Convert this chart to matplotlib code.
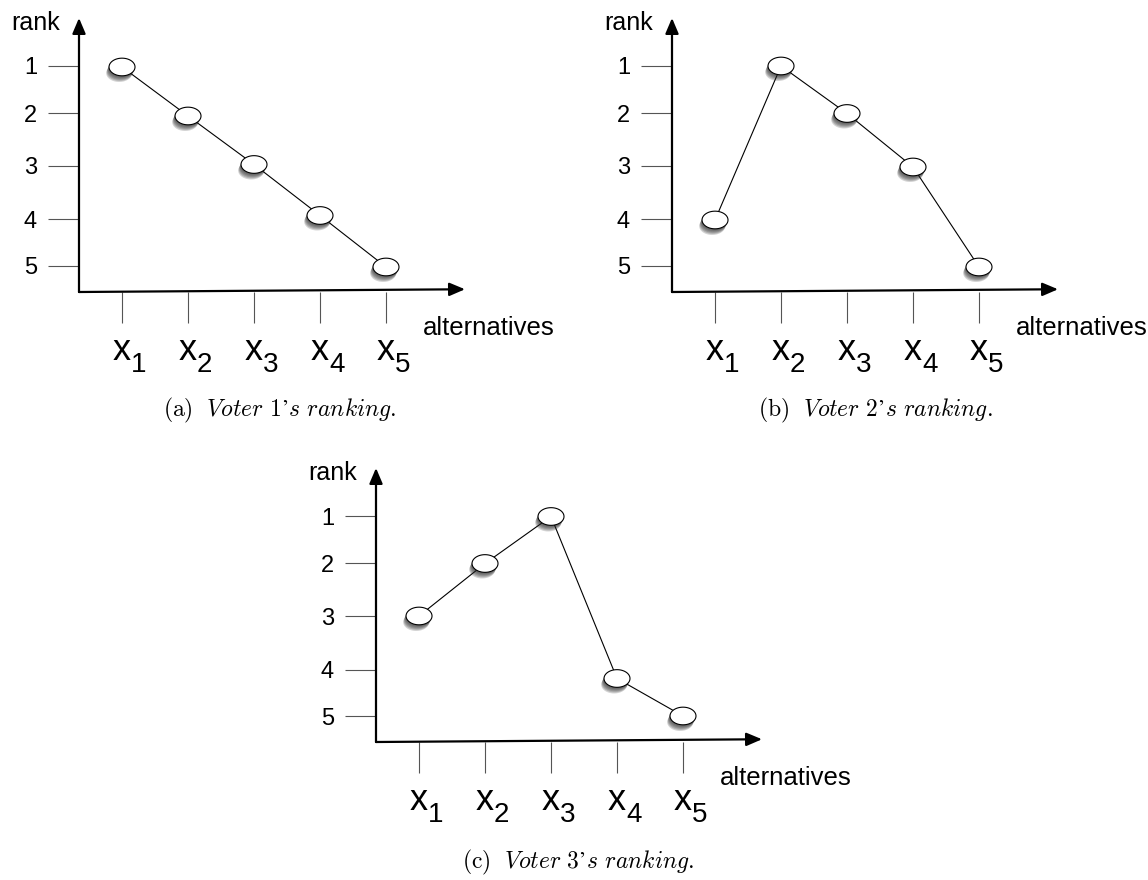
import numpy as np
import matplotlib
matplotlib.use('Agg')
import matplotlib.pyplot as plt
from matplotlib.path import Path
import matplotlib.patheffects as pe

plt.rcParams['font.family'] = ['Liberation Sans', 'DejaVu Sans']
plt.rcParams['mathtext.fontset'] = 'cm'

# datos
alternativas = [1, 2, 3, 4, 5]
subindices = ['1', '2', '3', '4', '5']
rank_ticks = [1, 1.94, 3, 4.07, 5]
rank_labels = ['1', '2', '3', '4', '5']

voter1 = [1.02, 2.0, 2.97, 3.99, 5.02]
voter2 = [4.08, 1.0, 1.95, 3.02, 5.02]
voter3 = [3.0, 1.95, 1.01, 4.25, 5.0]

captions = ['(a)', '(b)', '(c)']
caption_text = ["Voter 1’s ranking.", "Voter 2’s ranking.", "Voter 3’s ranking."]

W, H = 1148, 880
fig = plt.figure(figsize=(W / 100, H / 100), dpi=100)

# marcador eliptico
t = np.linspace(0, 2 * np.pi, 80)
elipse = Path(np.c_[np.cos(t), 0.68 * np.sin(t)], closed=True)

sombra = [pe.SimplePatchShadow(offset=(-0.6 * k, -1.3 * k), shadow_rgbFace='0.15', alpha=0.2)
          for k in (1, 1.6, 2.2, 2.8, 3.4)] + [pe.Normal()]


def panel(x0, y0, valores, cap, texto, cx, cy):
    # x0, y0: esquina del eje (pixeles, desde arriba)
    ax = fig.add_axes([x0 / W, (H - y0) / H, 386 / W, 274 / H])
    ax.set_xlim(0.348, 6.197)
    ax.set_ylim(5.52, 0.04)
    for s in ax.spines.values():
        s.set_visible(False)
    ax.patch.set_visible(False)

    flecha = dict(arrowstyle='-|>,head_length=0.47,head_width=0.2', color='k', lw=1.6,
                  mutation_scale=20, shrinkA=0, shrinkB=0)
    ax.annotate('', xy=(1, 0.01), xytext=(0, 0), xycoords='axes fraction', arrowprops=flecha)
    ax.annotate('', xy=(0, 1), xytext=(0, 0), xycoords='axes fraction', arrowprops=flecha)

    ax.set_xticks(alternativas)
    ax.set_xticklabels(['x'] * len(alternativas), fontsize=26)
    ax.set_yticks(rank_ticks)
    ax.set_yticklabels(rank_labels, fontsize=17)
    ax.tick_params(axis='both', length=22.3, width=0.8, color='#555555', direction='out')
    ax.tick_params(axis='x', pad=7.5)
    ax.tick_params(axis='y', pad=8)
    # subindices de x
    for xi, s in zip(alternativas, subindices):
        ax.annotate(s, xy=(xi, 0), xycoords=('data', 'axes fraction'), xytext=(6.5, -57.5),
                    textcoords='offset points', ha='left', va='baseline', fontsize=20)

    ax.plot(alternativas, valores, color='k', lw=0.8, zorder=2)
    ax.plot(alternativas, valores, ls='none', marker=elipse, ms=18.7, mfc='white', mec='k',
            mew=0.8, path_effects=sombra, zorder=3, clip_on=False)

    ax.text(-0.049, 0.982, 'rank', transform=ax.transAxes, ha='right', va='center', fontsize=18)
    ax.text(0.891, -0.131, 'alternatives', transform=ax.transAxes, ha='left', va='center',
            fontsize=18.5)

    fig.text(cx / W, 1 - cy / H, r'$\mathrm{%s}\ \ \mathit{%s}$' % (cap, texto.replace(' ', r'\ ')),
             ha='center', va='center', fontsize=17)
    return ax


panel(79, 292, voter1, captions[0], caption_text[0], 280, 410)
panel(672, 292, voter2, captions[1], caption_text[1], 875, 410)
panel(376, 742, voter3, captions[2], caption_text[2], 578, 862)

fig.savefig('out.png', dpi=100)
